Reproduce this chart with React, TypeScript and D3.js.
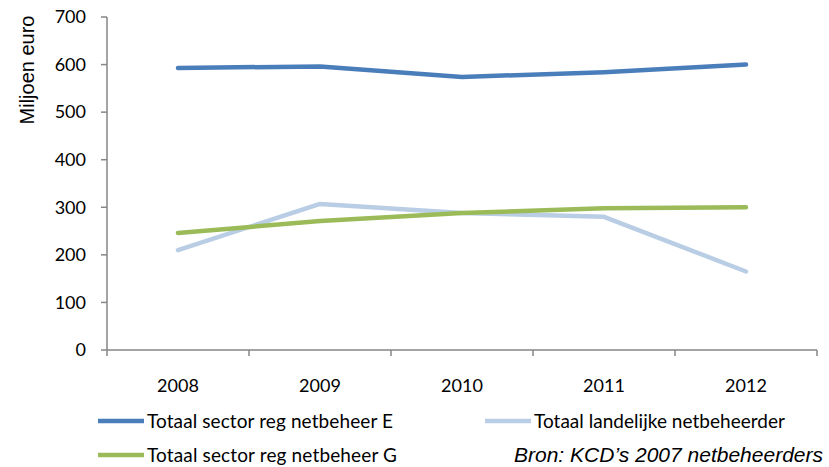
import React from "react";
import * as d3 from "d3";

const years = ["2008", "2009", "2010", "2011", "2012"];
const sectorE = [593, 596, 574, 584, 600];
const landelijk = [210, 307, 288, 280, 165];
const sectorG = [246, 271, 288, 298, 300];
const yTicks = [0, 100, 200, 300, 400, 500, 600, 700];

const series = [
  { name: "Totaal sector reg netbeheer E", values: sectorE, color: "#4A7EBB" },
  { name: "Totaal landelijke netbeheerder", values: landelijk, color: "#B9CDE5" },
  { name: "Totaal sector reg netbeheer G", values: sectorG, color: "#9BBB59" },
];

const App: React.FC = () => {
  const width = 829;
  const height = 467;
  const left = 107;
  const right = 817;
  const top = 17;
  const bottom = 350;

  const x = d3.scaleBand<string>().domain(years).range([left, right]);
  const y = d3.scaleLinear().domain([0, 700]).range([bottom, top]);

  const line = d3
    .line<number>()
    .x((_, i) => (x(years[i]) ?? 0) + x.bandwidth() / 2)
    .y((d) => y(d));

  const tickFont = "Lato, 'Open Sans', sans-serif";
  const axisColor = "#868686";

  // category boundaries for tick marks
  const bounds = years.map((yr) => x(yr) ?? 0).concat([right]);

  return (
    <svg
      width={width}
      height={height}
      style={{ position: "absolute", left: 0, top: 0, background: "#fff" }}
    >
      {/* lines */}
      {series.map((s) => (
        <path
          key={s.name}
          d={line(s.values) ?? ""}
          fill="none"
          stroke={s.color}
          strokeWidth={4.5}
          strokeLinejoin="round"
          strokeLinecap="round"
        />
      ))}

      {/* y axis */}
      <line x1={left} x2={left} y1={top} y2={bottom} stroke={axisColor} strokeWidth={1.5} />
      {yTicks.map((t) => (
        <g key={t}>
          <line x1={left - 6} x2={left} y1={y(t)} y2={y(t)} stroke={axisColor} strokeWidth={1.5} />
          <text
            x={86}
            y={y(t)}
            dy="0.35em"
            textAnchor="end"
            fontFamily={tickFont}
            fontSize={18}
            fill="#000"
          >
            {t}
          </text>
        </g>
      ))}

      {/* x axis */}
      <line x1={left} x2={right} y1={bottom} y2={bottom} stroke={axisColor} strokeWidth={1.5} />
      {bounds.map((b, i) => (
        <line key={i} x1={b} x2={b} y1={bottom} y2={bottom + 6} stroke={axisColor} strokeWidth={1.5} />
      ))}
      {years.map((yr) => (
        <text
          key={yr}
          x={(x(yr) ?? 0) + x.bandwidth() / 2}
          y={392}
          textAnchor="middle"
          fontFamily={tickFont}
          fontSize={18}
          fill="#000"
        >
          {yr}
        </text>
      ))}

      {/* y title */}
      <text
        transform="translate(34, 70) rotate(-90)"
        textAnchor="middle"
        fontFamily="'Liberation Sans', Arial, sans-serif"
        fontSize={20}
        fill="#000"
      >
        Miljoen euro
      </text>

      {/* legend */}
      {[
        { s: series[0], lx: 98, ly: 421, tl: 246 },
        { s: series[1], lx: 485, ly: 421, tl: 251 },
        { s: series[2], lx: 98, ly: 455, tl: 250 },
      ].map(({ s, lx, ly, tl }) => (
        <g key={s.name}>
          <line x1={lx} x2={lx + 46} y1={ly} y2={ly} stroke={s.color} strokeWidth={4.5} />
          <text
            x={lx + 49}
            y={ly}
            dy="0.35em"
            fontFamily={tickFont}
            fontSize={19}
            textLength={tl}
            lengthAdjust="spacing"
            fill="#000"
          >
            {s.name}
          </text>
        </g>
      ))}

      <text
        x={823}
        y={462}
        textAnchor="end"
        fontFamily="'Liberation Sans', Arial, sans-serif"
        fontStyle="italic"
        fontSize={21}
        fill="#000"
      >
        Bron: KCD’s 2007 netbeheerders
      </text>
    </svg>
  );
};

export default App;
